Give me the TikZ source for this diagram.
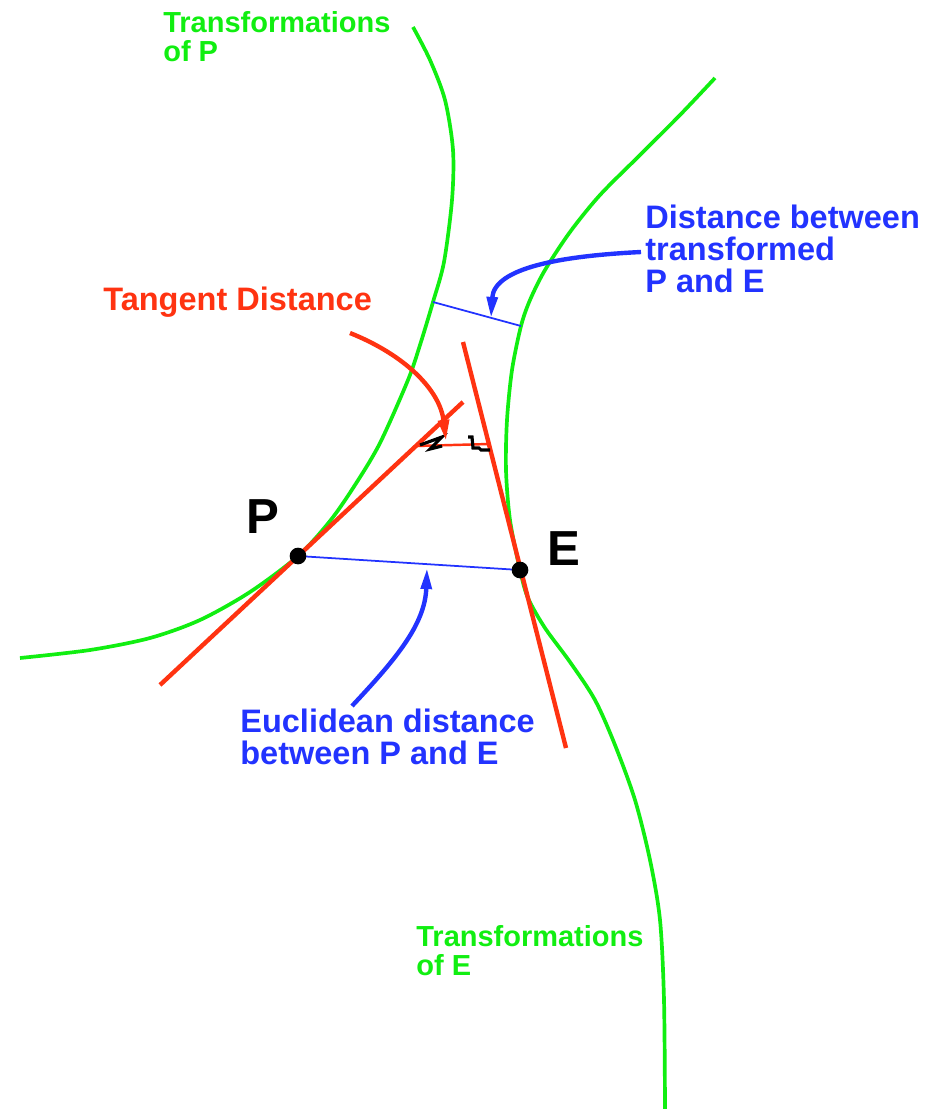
\documentclass[tikz,border=0pt]{standalone}
\usepackage{fontspec}
\setmainfont{Liberation Sans}
\usetikzlibrary{arrows.meta}
\definecolor{green}{HTML}{11EE11}
\definecolor{red}{HTML}{FF3311}
\definecolor{blue}{HTML}{2233FF}
\tikzset{
  >={Triangle[length=12pt,width=6pt]},
  orbit/.style={draw=green,line width=2.1pt},
  tangent/.style={draw=red,line width=2.5pt},
  gap/.style={draw=blue,line width=1pt},
  pointer/.style={->,line width=2.5pt},
  dot/.style={circle,fill=black,inner sep=0pt,minimum size=9.5pt},
  tick/.style={draw=black,line width=1.8pt},
  lbl/.style={font=\bfseries\fontsize{18.5}{18}\selectfont,align=left,inner sep=0pt,anchor=base west},
  glbl/.style={lbl,font=\bfseries\fontsize{16.5}{16.4}\selectfont,text=green},
  big/.style={font=\bfseries\fontsize{28}{30}\selectfont,inner sep=0pt,anchor=base west}
}
\begin{document}
\begin{tikzpicture}[x=0.02cm,y=-0.02cm]
  \useasboundingbox (0,0) rectangle (928,1109);
  \coordinate (P) at (298,556);
  \coordinate (E) at (520,570);
  \coordinate (tp) at (433,302);
  \coordinate (te) at (521,326);
  \coordinate (tdP) at (416,446);
  \coordinate (tdE) at (489,444);
  \coordinate (eutip) at (427,568);
  \coordinate (trtip) at (491,318);
  \coordinate (tdtip) at (446,441);
  \coordinate (eufoot) at (352,706);
  \coordinate (trfoot) at (641,252);
  \coordinate (tdfoot) at (350,333);
  % transformations of P and E
  \draw[orbit] plot[smooth] coordinates {(20,658) (90,650) (150,638) (200,620) (250,592) (P) (330,521) (355,485) (380,443) (408,380) (420,345) (tp) (444,262) (452,200) (453,150) (445,100) (430,60) (413,27)};
  \draw[orbit] plot[smooth] coordinates {(715,78) (680,115) (640,155) (600,195) (570,232) (545,270) (530,300) (te) (512,370) (507,420) (506,470) (510,520) (E) (528,598) (545,628) (570,662) (595,700) (615,745) (635,800) (650,860) (660,920) (664,1000) (665,1109)};
  % tangent lines
  \draw[tangent] (160,685) -- (463,402);
  \draw[tangent] (463,342) -- (566,748);
  \draw[red,line width=1.4pt] (tdP) -- (tdE);
  \draw[tick] (420,445) -- (442,437) -- (430,449) -- (442,446);
  \draw[tick] (468,437) -- (472,437) -- (473,448) -- (479,448) -- (481,450) -- (490,450);
  % distances
  \draw[gap] (P) -- (E);
  \draw[gap] (tp) -- (te);
  \node[dot] (dP) at (P) {};
  \node[dot] (dE) at (E) {};
  \node[big] (lP) at (246,533) {P};
  \node[big] (lE) at (547,565) {E};
  \node[glbl] (trP) at (163,61) {Transformations\\of P};
  \node[glbl] (trE) at (416,975) {Transformations\\of E};
  \node[lbl,text=red] (tang) at (103,310) {Tangent Distance};
  \node[lbl,text=blue] (trans) at (645,292) {Distance between\\transformed\\P and E};
  \node[lbl,text=blue] (eucl) at (240,764) {Euclidean distance\\between P and E};
  \draw[pointer,blue] (eufoot) .. controls (395,660) and (425,625) .. (eutip);
  \draw[pointer,blue] (trfoot) .. controls (560,256) and (494,268) .. (trtip);
  \draw[pointer,red] (tdfoot) .. controls (405,355) and (440,390) .. (tdtip);
\end{tikzpicture}
\end{document}
